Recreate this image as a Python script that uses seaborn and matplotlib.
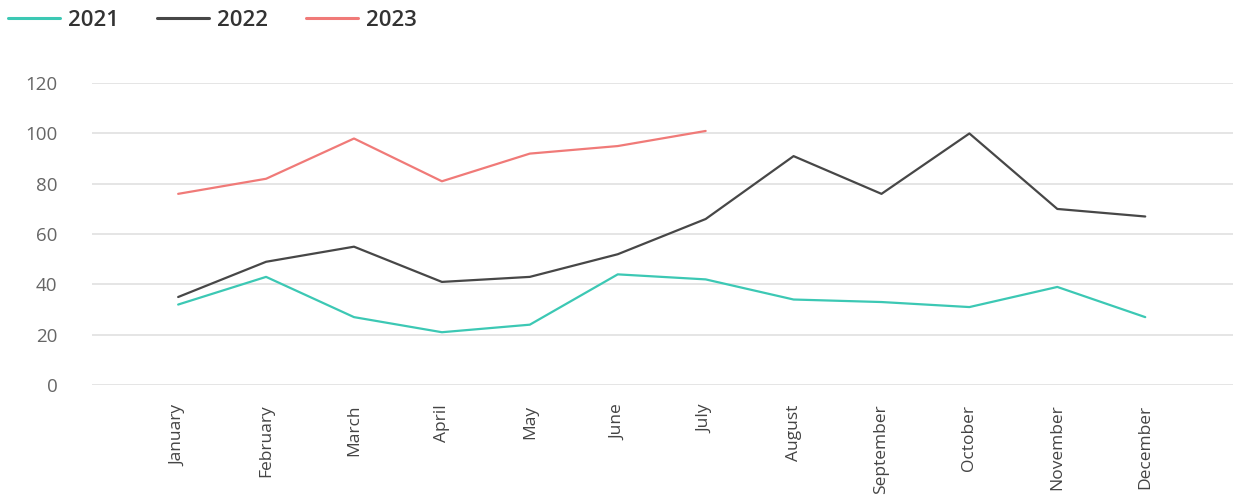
import pandas as pd
import matplotlib.pyplot as plt
import seaborn as sns

months = ["January", "February", "March", "April", "May", "June", "July",
          "August", "September", "October", "November", "December"]
v2021 = [32, 43, 27, 21, 24, 44, 42, 34, 33, 31, 39, 27]
v2022 = [35, 49, 55, 41, 43, 52, 66, 91, 76, 100, 70, 67]
v2023 = [76, 82, 98, 81, 92, 95, 101]
years = ["2021", "2022", "2023"]
colors = ["#3cc8b4", "#474747", "#f07a78"]

rows = []
for year, vals in zip(years, [v2021, v2022, v2023]):
    for i, v in enumerate(vals):
        rows.append({"Month": months[i], "idx": i, "Value": v, "Year": year})
df = pd.DataFrame(rows)

sns.set_style("white")
plt.rcParams["font.family"] = ["Open Sans", "DejaVu Sans"]

fig = plt.figure(figsize=(12.35, 5.04), dpi=100)
ax = fig.add_axes([0.0745, 0.236, 0.924, 0.599])

sns.lineplot(data=df, x="idx", y="Value", hue="Year", palette=colors,
             linewidth=1.6, ax=ax, legend=False)

ax.set_xlim(-0.98, 12)
ax.set_ylim(0, 120)
ax.set_yticks([0, 20, 40, 60, 80, 100, 120])
ax.set_xticks(range(len(months)))
ax.set_xticklabels(months, rotation=90, fontsize=12.5, color="#444444")
ax.tick_params(axis="y", labelsize=13.5, labelcolor="#666666", length=0, pad=25)
ax.tick_params(axis="x", length=0, pad=14)
ax.grid(axis="y", color="#e0e0e0", linewidth=1.2)
ax.set_axisbelow(True)
for s in ax.spines.values():
    s.set_visible(False)
ax.set_xlabel("")
ax.set_ylabel("")

handles = [plt.Line2D([], [], color=c, linewidth=2.2) for c in colors]
leg = fig.legend(handles, years, loc="upper left", bbox_to_anchor=(-0.0095, 1.02),
                 ncol=3, frameon=False, prop={"size": 16, "weight": "semibold"},
                 handlelength=2.35, columnspacing=1.7, handletextpad=0.36)
for t in leg.get_texts():
    t.set_color("#333333")

fig.savefig("out.png", dpi=100)
